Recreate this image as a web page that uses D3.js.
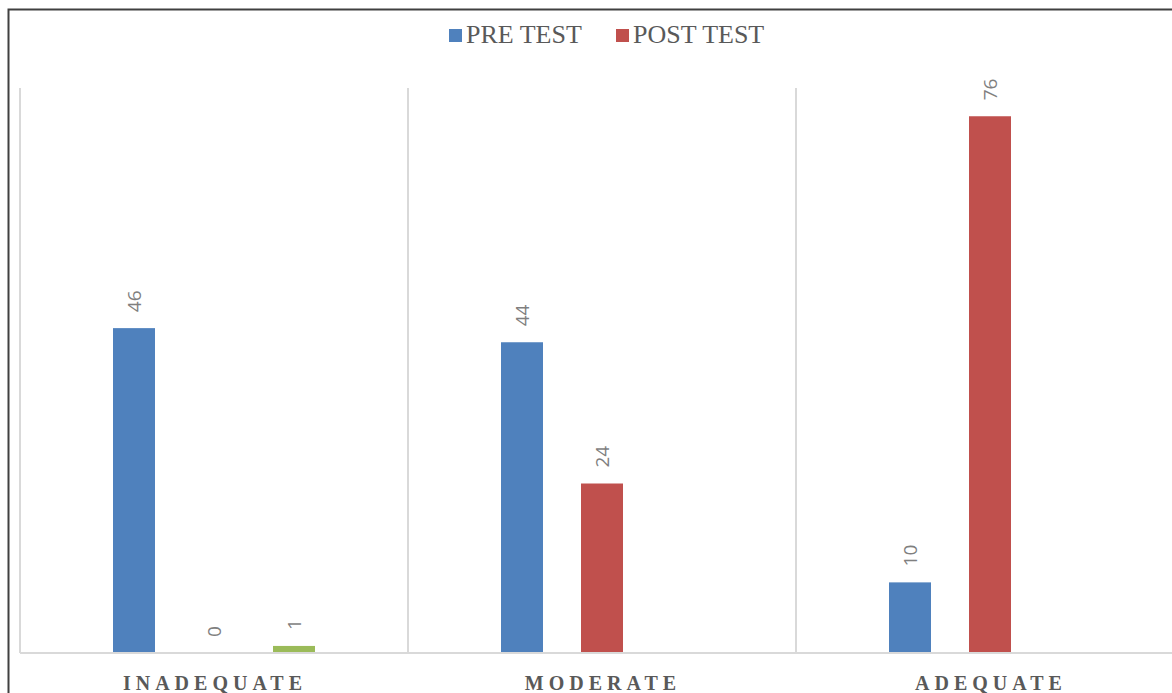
<!DOCTYPE html>
<html>
<head>
<meta charset="utf-8">
<script src="https://cdn.jsdelivr.net/npm/d3@7"></script>
<style>
  body { margin: 0; background: #fff; }
</style>
</head>
<body>
<svg id="chart" width="1172" height="693"></svg>
<script>
// categories and series
var categories = ["INADEQUATE", "MODERATE", "ADEQUATE"];
var seriesNames = ["PRE TEST", "POST TEST", "OTHER"];
var preTest = [46, 44, 10];
var postTest = [0, 24, 76];
var other = [1, null, null];
var legendNames = ["PRE TEST", "POST TEST"];

var colors = ["#4f81bd", "#c0504d", "#9bbb59"],
    gridColor = "#d9d9d9",
    textColor = "#595959";

var margin = {top: 88, left: 20},
    plotW = 388 * 3,
    plotH = 653 - 88;

var svg = d3.select("#chart");

// outer chart border (runs past the picture on the right and bottom)
svg.append("rect")
   .attr("x", 8.5).attr("y", 9.5)
   .attr("width", 1200).attr("height", 720)
   .attr("fill", "none")
   .attr("stroke", "#404040")
   .attr("stroke-width", 2);

var g = svg.append("g")
   .attr("transform", "translate(" + margin.left + "," + margin.top + ")");

var x0 = d3.scaleBand().domain(categories).range([0, plotW]).paddingInner(0).paddingOuter(0);
var x1 = d3.scaleBand().domain(d3.range(3))
           .range([93, 388 - 93]).paddingInner(0.475).paddingOuter(0);
var y = d3.scaleLinear().domain([0, 80]).range([plotH, 0]);

// vertical gridlines between categories
g.selectAll("line.grid")
 .data(categories.concat(["end"]))
 .enter().append("line")
 .attr("class", "grid")
 .attr("x1", function(d, i) { return i * x0.bandwidth(); })
 .attr("x2", function(d, i) { return i * x0.bandwidth(); })
 .attr("y1", 0).attr("y2", plotH)
 .attr("stroke", gridColor).attr("stroke-width", 2);

// data table
var rows = categories.map(function(c, i) {
  return {cat: c, vals: [preTest[i], postTest[i], other[i]]};
});

var groups = g.selectAll("g.cat")
  .data(rows)
  .enter().append("g")
  .attr("class", "cat")
  .attr("transform", function(d) { return "translate(" + x0(d.cat) + ",0)"; });

var cells = groups.selectAll("g.bar")
  .data(function(d) {
    return d.vals.map(function(v, k) { return {k: k, v: v}; })
                 .filter(function(e) { return e.v !== null; });
  })
  .enter().append("g").attr("class", "bar");

cells.append("rect")
  .attr("x", function(d) { return x1(d.k); })
  .attr("width", x1.bandwidth())
  .attr("y", function(d) { return y(d.v); })
  .attr("height", function(d) { return plotH - y(d.v); })
  .attr("fill", function(d) { return colors[d.k]; });

cells.append("text")
  .attr("transform", function(d) {
    return "translate(" + (x1(d.k) + x1.bandwidth() / 2 + 7) + "," + (y(d.v) - 16) + ") rotate(-90)";
  })
  .attr("font-family", "'Open Sans', 'Liberation Sans', sans-serif")
  .attr("font-size", 19)
  .attr("fill", "#7f7f7f")
  .text(function(d) { return d.v; });

// baseline
g.append("line")
  .attr("x1", 0).attr("x2", plotW)
  .attr("y1", plotH).attr("y2", plotH)
  .attr("stroke", gridColor).attr("stroke-width", 2);

// category labels
g.selectAll("text.cat")
  .data(categories)
  .enter().append("text")
  .attr("class", "cat")
  .attr("x", function(d) { return x0(d) + x0.bandwidth() / 2 + 1; })
  .attr("y", plotH + 37)
  .attr("text-anchor", "middle")
  .attr("font-family", "'Liberation Serif', 'Times New Roman', serif")
  .attr("font-weight", "bold")
  .attr("font-size", 20)
  .attr("letter-spacing", 5)
  .attr("fill", textColor)
  .text(function(d) { return d; });

// legend
var legendX = [449, 616];
var legend = svg.selectAll("g.legend")
  .data(legendNames)
  .enter().append("g")
  .attr("class", "legend")
  .attr("transform", function(d, i) { return "translate(" + legendX[i] + ",29)"; });

legend.append("rect")
  .attr("width", 13).attr("height", 13)
  .attr("fill", function(d, i) { return colors[i]; });

legend.append("text")
  .attr("x", 17).attr("y", 14)
  .attr("font-family", "'Liberation Serif', 'Times New Roman', serif")
  .attr("font-size", 26)
  .attr("fill", textColor)
  .text(function(d) { return d; });
</script>
</body>
</html>
